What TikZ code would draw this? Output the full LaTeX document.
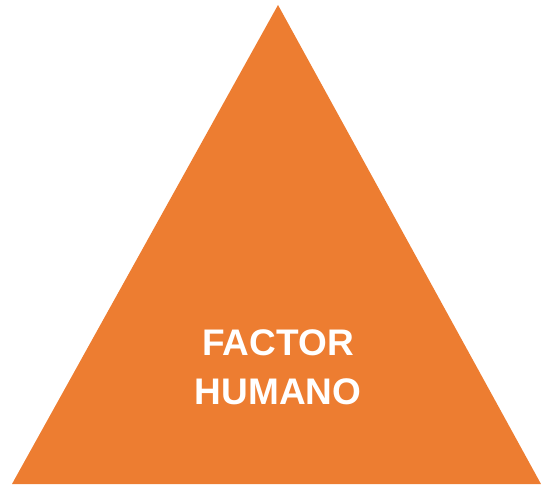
\documentclass[tikz,border=0pt]{standalone}
\usepackage{fontspec}
\setmainfont{Liberation Sans}
\usepackage{xcolor}
\definecolor{naranja}{HTML}{ED7D31}
\usetikzlibrary{positioning}

\begin{document}
\begin{tikzpicture}[x=1pt,y=-1pt]
\useasboundingbox (0,0) rectangle (541,486);
\fill[naranja] (12,484)--(541,484)--(278,5)--cycle;
\node[align=center,text=white,font=\fontsize{37}{49}\selectfont\bfseries] (factor) at (278,367) {FACTOR\\HUMANO};
\end{tikzpicture}
\end{document}
